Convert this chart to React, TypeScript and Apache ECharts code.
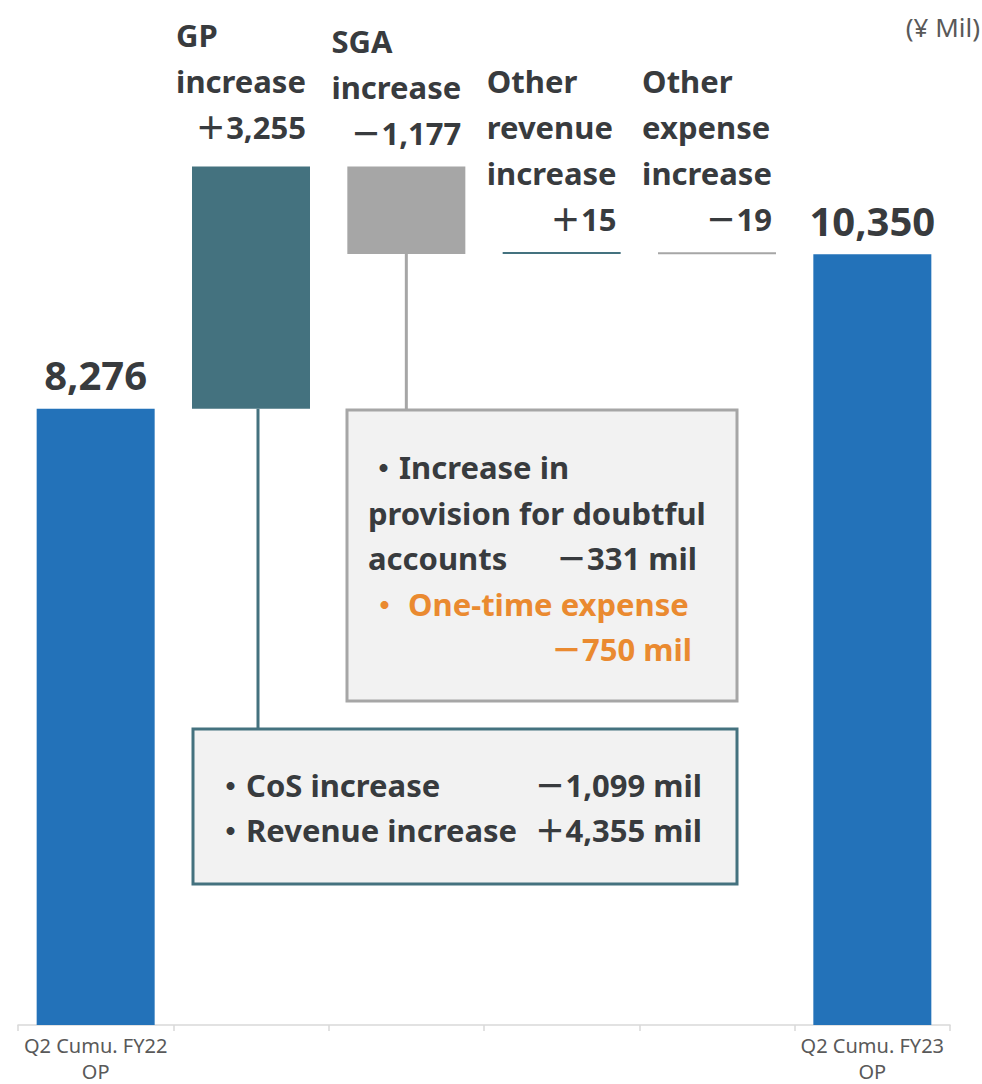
import React, { useEffect, useRef } from 'react';
import * as echarts from 'echarts';

// Operating profit bridge, ¥ millions
const categories = [
  'Q2 Cumu. FY22\nOP',
  'GP\nincrease',
  'SGA\nincrease',
  'Other\nrevenue\nincrease',
  'Other\nexpense\nincrease',
  'Q2 Cumu. FY23\nOP',
];
const openingOP = 8276;
const changes = [3255, -1177, 15, -19];
const closingOP = 10350;
const barColors = ['#2372b9', '#44727f', '#a6a6a6', '#44727f', '#a6a6a6', '#2372b9'];

// Breakdown call-outs
const gpBreakdown: [string, number][] = [
  ['CoS increase', -1099],
  ['Revenue increase', 4355],
];
const sgaBreakdown: [string, number][] = [
  ['Increase in provision for doubtful accounts', -331],
  ['One-time expense', -750],
];

const FONT = '"Noto Sans", "Noto Sans CJK JP", sans-serif';
const DARK = '#383b3e';
const ORANGE = '#ea8a30';

const fmt = (v: number) => Math.abs(v).toLocaleString('en-US');
const signed = (v: number) => (v >= 0 ? '＋' : '－') + fmt(v);

// Waterfall: invisible base plus visible step
const bases: number[] = [0];
const steps: number[] = [openingOP];
let running = openingOP;
changes.forEach((c) => {
  const next = running + c;
  bases.push(Math.min(running, next));
  steps.push(Math.abs(c));
  running = next;
});
bases.push(0);
steps.push(closingOP);

export default function App() {
  const ref = useRef<HTMLDivElement>(null);

  useEffect(() => {
    if (!ref.current) return;
    const chart = echarts.init(ref.current, undefined, { renderer: 'svg' });
    const last = categories.length - 1;

    chart.setOption({
      animation: false,
      grid: { left: 18, right: 32, top: 57, bottom: 59, outerBoundsMode: 'none', containLabel: false },
      xAxis: {
        type: 'category',
        data: categories,
        axisLine: { lineStyle: { color: '#d9d9d9', width: 1.5 } },
        axisTick: { show: true, length: 6, lineStyle: { color: '#d9d9d9', width: 1.5 } },
        axisLabel: {
          interval: 0,
          margin: 7,
          color: '#595959',
          fontFamily: FONT,
          fontSize: 20,
          lineHeight: 26,
          formatter: (v: string, i: number) => (i === 0 || i === last ? v : ''),
        },
      },
      yAxis: { type: 'value', min: 0, max: 13000, show: false, splitLine: { show: false } },
      series: [
        {
          type: 'bar',
          stack: 'op',
          data: bases,
          barWidth: 118,
          itemStyle: { color: 'transparent' },
          silent: true,
        },
        {
          type: 'bar',
          stack: 'op',
          barWidth: 118,
          barMinHeight: 2,
          data: steps.map((v, i) => ({
            value: v,
            itemStyle: { color: barColors[i] },
            label: {
              offset: i === 0 || i === last ? [0, 0] : [-10, i === 1 ? -6 : 0],
            },
          })),
          label: {
            show: true,
            position: 'top',
            distance: 10,
            fontFamily: FONT,
            color: DARK,
            formatter: (p: any) => {
              const i = p.dataIndex;
              if (i === 0 || i === last) return `{big|${fmt(steps[i])}}`;
              const lines = categories[i].split('\n').map((l) => `{t|${l}}`);
              return lines.join('\n') + `\n{v|${signed(changes[i - 1])}}`;
            },
            rich: {
              big: { fontSize: 40, fontWeight: 'bold', fontFamily: FONT, color: DARK, lineHeight: 48 },
              t: { fontSize: 31, fontWeight: 'bold', fontFamily: FONT, color: DARK, lineHeight: 46, align: 'left' },
              v: { fontSize: 31, fontWeight: 'bold', fontFamily: FONT, color: DARK, lineHeight: 46, align: 'right' },
            },
          },
        },
      ],
    });

    // Call-out boxes tied to the GP and SGA steps
    const gpBottom = chart.convertToPixel({ xAxisIndex: 0, yAxisIndex: 0 }, [1, bases[1]]) as number[];
    const sgaBottom = chart.convertToPixel({ xAxisIndex: 0, yAxisIndex: 0 }, [2, bases[2]]) as number[];

    const txt = (text: string, x: number, y: number, align: string, fill = DARK) => ({
      type: 'text',
      x,
      y,
      style: {
        text,
        fill,
        fontSize: 31,
        fontWeight: 'bold',
        fontFamily: FONT,
        align,
        verticalAlign: 'middle',
      },
    });

    const sgaBox = { x: 347, y: 410, w: 390, h: 291 };
    const gpBox = { x: 193, y: 729, w: 544, h: 155 };

    const [provWords, oneTime] = [sgaBreakdown[0], sgaBreakdown[1]];
    const provParts = provWords[0].split(' '); // Increase in provision for doubtful accounts

    chart.setOption({
      graphic: [
        {
          type: 'text',
          x: 980,
          y: 27,
          style: {
            text: '(¥ Mil)',
            fill: '#595959',
            fontSize: 26,
            fontFamily: FONT,
            align: 'right',
            verticalAlign: 'middle',
          },
        },
        {
          type: 'line',
          shape: { x1: gpBottom[0] + 7, y1: gpBottom[1], x2: gpBottom[0] + 7, y2: gpBox.y },
          style: { stroke: '#44727f', lineWidth: 3 },
        },
        {
          type: 'line',
          shape: { x1: sgaBottom[0], y1: sgaBottom[1], x2: sgaBottom[0], y2: sgaBox.y },
          style: { stroke: '#a6a6a6', lineWidth: 3 },
        },
        {
          type: 'rect',
          shape: { x: sgaBox.x, y: sgaBox.y, width: sgaBox.w, height: sgaBox.h },
          style: { fill: '#f2f2f2', stroke: '#a6a6a6', lineWidth: 3 },
        },
        txt('・' + provParts.slice(0, 2).join(' '), 368, 467, 'left'),
        txt(provParts.slice(2, 5).join(' '), 368, 513, 'left'),
        txt(provParts.slice(5).join(' '), 368, 558, 'left'),
        txt(signed(provWords[1]) + ' mil', 697, 558, 'right'),
        txt('・ ' + oneTime[0], 369, 604, 'left', ORANGE),
        txt(signed(oneTime[1]) + ' mil', 692, 649, 'right', ORANGE),
        {
          type: 'rect',
          shape: { x: gpBox.x, y: gpBox.y, width: gpBox.w, height: gpBox.h },
          style: { fill: '#f2f2f2', stroke: '#44727f', lineWidth: 3 },
        },
        txt('・' + gpBreakdown[0][0], 215, 785, 'left'),
        txt(signed(gpBreakdown[0][1]) + ' mil', 702, 785, 'right'),
        txt('・' + gpBreakdown[1][0], 215, 830, 'left'),
        txt(signed(gpBreakdown[1][1]) + ' mil', 702, 830, 'right'),
      ],
    });

    return () => chart.dispose();
  }, []);

  return (
    <div
      ref={ref}
      style={{ position: 'absolute', left: 0, top: 0, width: 982, height: 1084, background: '#ffffff' }}
    />
  );
}
